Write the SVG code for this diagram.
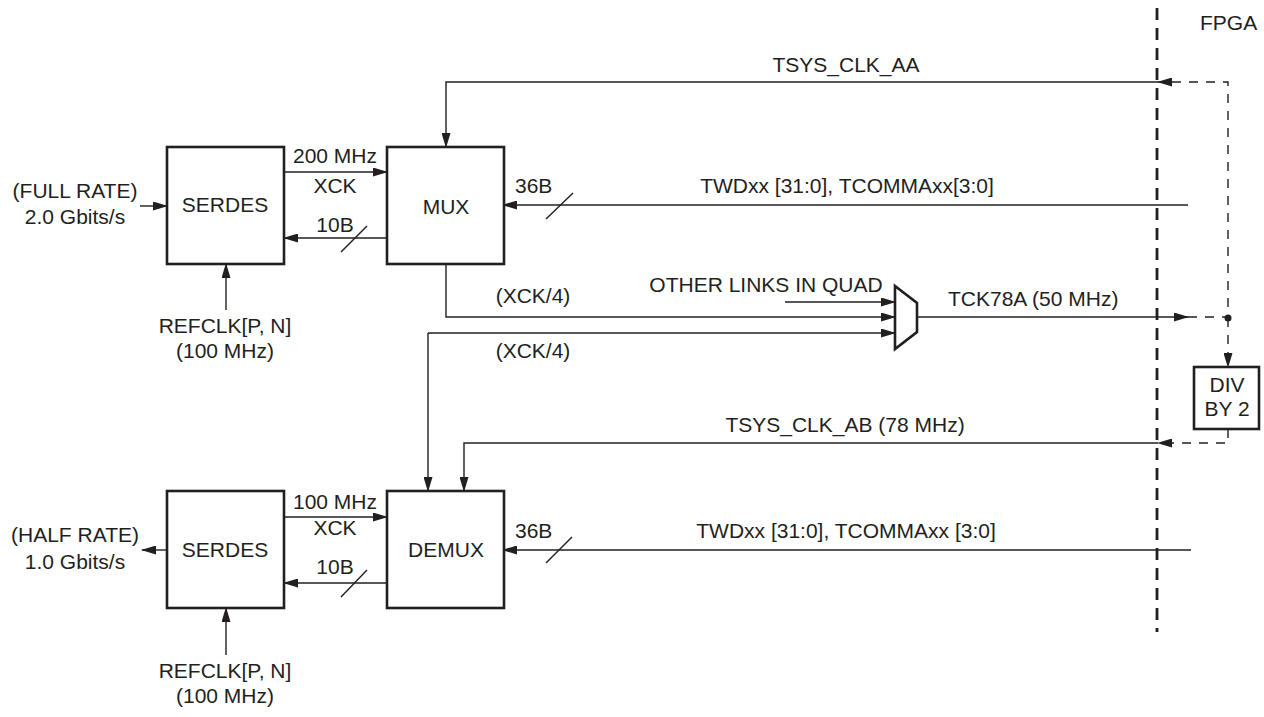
<svg xmlns="http://www.w3.org/2000/svg" width="1264" height="717" viewBox="0 0 1264 717">
<style>
text{font-family:"Liberation Sans",Arial,sans-serif;font-size:21px;fill:#231f20}
.m{text-anchor:middle}
.box{fill:#fff;stroke:#231f20;stroke-width:2.6}
.ln{fill:none;stroke:#231f20;stroke-width:1.4}
.dl{fill:none;stroke:#231f20;stroke-width:1.4;stroke-dasharray:9 8}
.bd{fill:none;stroke:#231f20;stroke-width:2.8;stroke-dasharray:12 8}
.ar{marker-end:url(#ah)}
</style>
<defs>
<marker id="ah" markerUnits="userSpaceOnUse" markerWidth="15" markerHeight="9" refX="14" refY="4.5" orient="auto">
<path d="M0,0 L15,4.5 L0,9 z" fill="#231f20"/>
</marker>
</defs>
<rect width="1264" height="717" fill="#fff"/>

<g id="connectors">
<!-- top serdes/mux -->
<line class="ln ar" x1="140" y1="206" x2="167" y2="206"/>
<line class="ln ar" x1="284" y1="172" x2="387" y2="172"/>
<line class="ln ar" x1="387" y1="238" x2="284" y2="238"/>
<line class="ln" x1="341" y1="252" x2="367" y2="226"/>
<line class="ln ar" x1="226" y1="310" x2="226" y2="264"/>
<!-- TSYS_CLK_AA -->
<polyline class="ln ar" points="1158,82 446,82 446,147"/>
<line class="ln ar" x1="1172" y1="82" x2="1158" y2="82"/>
<polyline class="dl" points="1172,82 1228,82 1228,318"/>
<!-- TWDxx top -->
<line class="ln ar" x1="1188" y1="205" x2="503" y2="205"/>
<line class="ln" x1="546" y1="219" x2="573" y2="193"/>
<!-- XCK/4 -->
<polyline class="ln ar" points="446,264 446,317 895,317"/>
<line class="ln ar" x1="785" y1="302" x2="895" y2="302"/>
<polyline class="ln ar" points="428,333 895,333"/>
<line class="ln ar" x1="428" y1="333" x2="428" y2="491"/>
<!-- TCK78A -->
<line class="ln ar" x1="917" y1="317" x2="1188" y2="317"/>
<line class="dl" x1="1188" y1="317" x2="1228" y2="317"/>
<circle cx="1228" cy="318" r="3.5" fill="#231f20"/>
<line class="dl ar" x1="1228" y1="318" x2="1228" y2="367"/>
<!-- TSYS_CLK_AB -->
<polyline class="dl ar" points="1228,429 1228,443 1158,443"/>
<polyline class="ln ar" points="1158,443 464,443 464,491"/>
<!-- bottom -->
<line class="ln ar" x1="1191" y1="550" x2="503" y2="550"/>
<line class="ln" x1="546" y1="563" x2="572" y2="537"/>
<line class="ln ar" x1="284" y1="517" x2="387" y2="517"/>
<line class="ln ar" x1="387" y1="583" x2="284" y2="583"/>
<line class="ln" x1="341" y1="597" x2="367" y2="570"/>
<line class="ln ar" x1="167" y1="550" x2="142" y2="550"/>
<line class="ln ar" x1="226" y1="655" x2="226" y2="608"/>
<!-- FPGA boundary -->
<line class="bd" x1="1157" y1="8" x2="1157" y2="632"/>
</g>

<g id="serdes-top">
<rect class="box" x="167" y="147" width="117" height="117"/>
<text class="m" x="225" y="212">SERDES</text>
</g>
<g id="mux">
<rect class="box" x="387" y="147" width="117" height="117"/>
<text class="m" x="446" y="214">MUX</text>
</g>
<g id="mux-quad">
<polygon points="895,286 917,303 917,332 895,349" fill="#fff" stroke="#231f20" stroke-width="2.6"/>
</g>
<g id="div-by-2">
<rect class="box" x="1194" y="367" width="65" height="62"/>
<text class="m" x="1227" y="392">DIV</text>
<text class="m" x="1227" y="416">BY 2</text>
</g>
<g id="serdes-bottom">
<rect class="box" x="167" y="491" width="117" height="117"/>
<text class="m" x="225" y="557">SERDES</text>
</g>
<g id="demux">
<rect class="box" x="387" y="491" width="117" height="117"/>
<text class="m" x="446" y="557">DEMUX</text>
</g>

<g id="labels">
<text x="1200" y="30">FPGA</text>
<text class="m" x="846" y="72">TSYS_CLK_AA</text>
<text class="m" x="335" y="163">200 MHz</text>
<text class="m" x="335" y="193">XCK</text>
<text class="m" x="335" y="232">10B</text>
<text class="m" x="75" y="198">(FULL RATE)</text>
<text class="m" x="75" y="224">2.0 Gbits/s</text>
<text x="515" y="193">36B</text>
<text class="m" x="847" y="193">TWDxx [31:0], TCOMMAxx[3:0]</text>
<text class="m" x="225" y="333">REFCLK[P, N]</text>
<text class="m" x="225" y="358">(100 MHz)</text>
<text class="m" x="766" y="292">OTHER LINKS IN QUAD</text>
<text class="m" x="533" y="303">(XCK/4)</text>
<text class="m" x="533" y="358">(XCK/4)</text>
<text x="948" y="306">TCK78A (50 MHz)</text>
<text class="m" x="845" y="432">TSYS_CLK_AB (78 MHz)</text>
<text class="m" x="335" y="509">100 MHz</text>
<text class="m" x="335" y="535">XCK</text>
<text class="m" x="335" y="574">10B</text>
<text class="m" x="75" y="542">(HALF RATE)</text>
<text class="m" x="75" y="569">1.0 Gbits/s</text>
<text x="515" y="538">36B</text>
<text class="m" x="846" y="538">TWDxx [31:0], TCOMMAxx [3:0]</text>
<text class="m" x="225" y="678">REFCLK[P, N]</text>
<text class="m" x="225" y="703">(100 MHz)</text>
</g>
</svg>
